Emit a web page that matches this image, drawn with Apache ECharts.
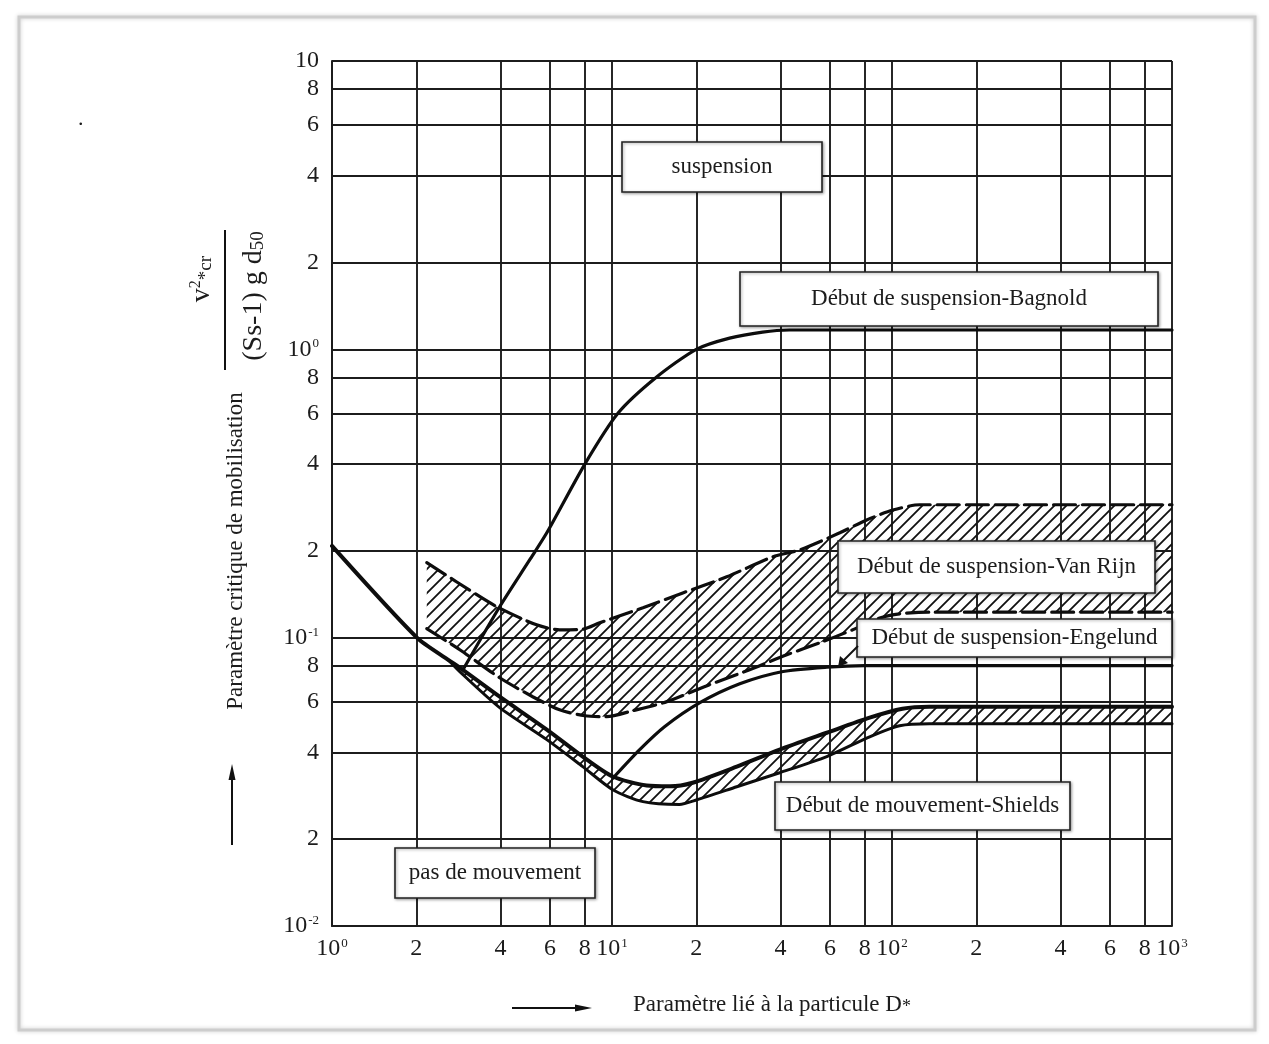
<!DOCTYPE html>
<html>
<head>
<meta charset="utf-8">
<title>Paramètre critique de mobilisation</title>
<script src="https://cdn.jsdelivr.net/npm/echarts@6/dist/echarts.min.js"></script>
<style>
html, body { margin: 0; padding: 0; background: #fff; }
#chart { width: 1269px; height: 1044px; }
</style>
</head>
<body>
<div id="chart"></div>
<script>
// grid lines between decades (2,4,6,8 of each decade)
var xMinorTicks = [2, 4, 6, 8, 20, 40, 60, 80, 200, 400, 600, 800];
var xMinorLabels = ['2', '4', '6', '8', '2', '4', '6', '8', '2', '4', '6', '8'];
var yMinorTicks = [0.02, 0.04, 0.06, 0.08, 0.2, 0.4, 0.6, 0.8, 2, 4, 6, 8];
var yMinorLabels = ['2', '4', '6', '8', '2', '4', '6', '8', '2', '4', '6', '8'];

// Début de mouvement - Shields (upper and lower edge of the band)
var shieldsUpX = [1, 2.01, 2.6, 2.86, 3.97, 5.85, 7.86, 10.06, 13.3, 16.1, 19.4, 27.9, 39.7, 58.5, 83.2, 109, 136, 1000];
var shieldsUpY = [0.208, 0.1, 0.0838, 0.0787, 0.0624, 0.048, 0.0387, 0.033, 0.0307, 0.0305, 0.0314, 0.0357, 0.0409, 0.0468, 0.0528, 0.0567, 0.0576, 0.0576];
var shieldsLowX = [2.6, 2.86, 3.97, 5.85, 7.86, 10.06, 12.9, 17.4, 20.1, 27.9, 39.7, 58.5, 83.2, 106.5, 136, 1000];
var shieldsLowY = [0.0838, 0.0762, 0.0572, 0.0443, 0.0357, 0.0297, 0.027, 0.0264, 0.0274, 0.0304, 0.034, 0.0387, 0.0453, 0.0495, 0.0503, 0.0503];

// Début de suspension - Bagnold
var bagnoldX = [2.95, 3.97, 5.08, 5.85, 8, 10.5, 14.4, 20, 26.3, 34.5, 43, 1000];
var bagnoldY = [0.078, 0.128, 0.186, 0.231, 0.4, 0.6, 0.8, 1.0, 1.094, 1.148, 1.167, 1.167];

// Début de suspension - Van Rijn (dashed band)
var vanRijnUpX = [2.18, 2.79, 3.88, 5.38, 6.5, 7.86, 9.04, 12.9, 17.9, 25.7, 37.5, 46.8, 65.1, 81.2, 100.6, 125.6, 1000];
var vanRijnUpY = [0.182, 0.156, 0.128, 0.1108, 0.1065, 0.107, 0.1126, 0.127, 0.143, 0.1626, 0.1907, 0.2016, 0.231, 0.256, 0.277, 0.289, 0.289];
var vanRijnLowX = [2.18, 2.86, 3.97, 5.21, 6.5, 7.99, 9.57, 11.86, 15.7, 22.3, 31.0, 42.1, 55.2, 72.4, 90.4, 106.5, 136, 1000];
var vanRijnLowY = [0.1074, 0.0908, 0.0726, 0.0624, 0.0562, 0.0536, 0.0532, 0.0558, 0.06, 0.0687, 0.0774, 0.0872, 0.096, 0.1065, 0.117, 0.121, 0.1226, 0.1226];

// Début de suspension - Engelund
var engelundX = [10.2, 12.56, 15.4, 20.6, 28.6, 40.4, 58.5, 80, 1000];
var engelundY = [0.033, 0.0409, 0.0491, 0.0595, 0.0692, 0.0762, 0.079, 0.08, 0.08];

var FONT = '"Liberation Serif", "Times New Roman", serif';
var INK = '#1c1c1c';

function pairs(xs, ys) {
	return xs.map(function(x, i){ return [x, ys[i]]; });
}

function makeHatch(){
	var s = 12;
	var c = document.createElement('canvas');
	c.width = s; c.height = s;
	var g = c.getContext('2d');
	g.strokeStyle = '#111';
	g.lineWidth = 1.8;
	g.beginPath();
	g.moveTo(-1, s + 1); g.lineTo(s + 1, -1);
	g.moveTo(-2, 2); g.lineTo(2, -2);
	g.moveTo(s - 2, s + 2); g.lineTo(s + 2, s - 2);
	g.stroke();
	return {image: c, repeat: 'repeat'};
}
var hatch = makeHatch();

function band(upX, upY, lowX, lowY){
	return function(params, api){
		var pts = [];
		for (var i = 0; i < upX.length; i++) {
			if (upX[i] >= lowX[0]) pts.push(api.coord([upX[i], upY[i]]));
		}
		for (var j = lowX.length - 1; j >= 0; j--) {
			pts.push(api.coord([lowX[j], lowY[j]]));
		}
		return {
			type: 'polygon',
			shape: {points: pts},
			style: {fill: hatch, stroke: null}
		};
	};
}

function curve(name, xs, ys, width, dashed){
	return {
		name: name,
		type: 'line',
		data: pairs(xs, ys),
		smooth: 0.25,
		symbol: 'none',
		silent: true,
		z: 5,
		lineStyle: {color: '#0d0d0d', width: width, type: dashed ? [22, 7] : 'solid', cap: 'round'}
	};
}

var gridMarks = [];
xMinorTicks.forEach(function(v, i){
	gridMarks.push({xAxis: v, name: xMinorLabels[i], label: {position: 'start', distance: 11}});
});
yMinorTicks.forEach(function(v, i){
	gridMarks.push({yAxis: v, name: yMinorLabels[i], label: {position: 'start', distance: 13}});
});

var supRich = {
	s: {fontSize: 13, fontFamily: FONT, color: INK, verticalAlign: 'top', padding: [0, 0, 10, 1]}
};

function box(x, y, w, h, text){
	return {
		type: 'group',
		children: [{
			type: 'rect',
			z: 50,
			shape: {x: x, y: y, width: w, height: h},
			style: {fill: '#fff', stroke: '#222', lineWidth: 1.6,
				shadowBlur: 3, shadowColor: 'rgba(0,0,0,0.35)', shadowOffsetX: 1, shadowOffsetY: 1}
		}, {
			type: 'text',
			z: 51,
			x: x + w / 2, y: y + h / 2,
			style: {text: text, font: '23px ' + FONT, fill: INK,
				align: 'center', verticalAlign: 'middle', textAlign: 'center', textVerticalAlign: 'middle'}
		}]
	};
}

var myChart = echarts.init(document.getElementById('chart'));

var option = {
	animation: false,
	backgroundColor: '#fff',
	grid: {left: 332, right: 97, top: 61, bottom: 118},
	xAxis: {
		type: 'log',
		logBase: 10,
		min: 1,
		max: 1000,
		axisLine: {show: true, lineStyle: {color: INK, width: 2}},
		axisTick: {show: false},
		splitLine: {show: true, lineStyle: {color: INK, width: 1.9}},
		axisLabel: {
			margin: 11,
			color: INK,
			fontSize: 24,
			fontFamily: FONT,
			rich: supRich,
			formatter: function(v){
				var e = Math.round(Math.log(v) / Math.LN10);
				return '10{s|' + e + '}';
			}
		}
	},
	yAxis: {
		type: 'log',
		logBase: 10,
		min: 0.01,
		max: 10,
		axisLine: {show: true, lineStyle: {color: INK, width: 2}},
		axisTick: {show: false},
		splitLine: {show: true, lineStyle: {color: INK, width: 1.9}},
		axisLabel: {
			margin: 13,
			color: INK,
			fontSize: 24,
			fontFamily: FONT,
			rich: supRich,
			formatter: function(v){
				var e = Math.round(Math.log(v) / Math.LN10);
				if (e === 1) return '10';
				return '10{s|' + e + '}';
			}
		}
	},
	series: [
		{
			name: 'grille',
			type: 'line',
			data: [],
			silent: true,
			z: 1,
			markLine: {
				silent: true,
				symbol: ['none', 'none'],
				animation: false,
				lineStyle: {color: INK, width: 1.9, type: 'solid'},
				label: {show: true, formatter: '{b}', color: INK, fontSize: 24, fontFamily: FONT},
				emphasis: {disabled: true},
				data: gridMarks
			}
		},
		{
			name: 'zone Van Rijn',
			type: 'custom',
			silent: true,
			z: 3,
			renderItem: band(vanRijnUpX, vanRijnUpY, vanRijnLowX, vanRijnLowY),
			data: [[10, 0.1]]
		},
		{
			name: 'zone Shields',
			type: 'custom',
			silent: true,
			z: 3,
			renderItem: band(shieldsUpX, shieldsUpY, shieldsLowX, shieldsLowY),
			data: [[10, 0.05]]
		},
		curve('Shields', shieldsUpX, shieldsUpY, 4, false),
		curve('Shields bas', shieldsLowX, shieldsLowY, 3, false),
		curve('Bagnold', bagnoldX, bagnoldY, 3.2, false),
		curve('Van Rijn haut', vanRijnUpX, vanRijnUpY, 3.2, true),
		curve('Van Rijn bas', vanRijnLowX, vanRijnLowY, 3.2, true),
		curve('Engelund', engelundX, engelundY, 3.2, false)
	],
	graphic: [
		{
			type: 'rect', z: -10, silent: true,
			shape: {x: 19, y: 17, width: 1236, height: 1013},
			style: {fill: 'none', stroke: '#cdcdcd', lineWidth: 3, shadowBlur: 4, shadowColor: 'rgba(0,0,0,0.2)'}
		},
		{type: 'text', x: 78, y: 108, z: 50, style: {text: '.', font: '22px ' + FONT, fill: INK}},
		box(622, 142, 200, 50, 'suspension'),
		box(740, 272, 418, 54, 'Début de suspension-Bagnold'),
		box(838, 541, 317, 52, 'Début de suspension-Van Rijn'),
		box(857, 619, 315, 38, 'Début de suspension-Engelund'),
		box(775, 782, 295, 48, 'Début de mouvement-Shields'),
		box(395, 848, 200, 50, 'pas de mouvement'),
		// arrow from Engelund label to its curve
		{type: 'line', z: 60, shape: {x1: 858, y1: 646, x2: 843, y2: 661}, style: {stroke: '#111', lineWidth: 2}},
		{type: 'polygon', z: 60, shape: {points: [[838, 667], [840, 656], [848, 663]]}, style: {fill: '#111'}},
		// y axis title
		{
			type: 'text', x: 236, y: 551, rotation: Math.PI / 2, z: 50,
			style: {text: 'Paramètre critique de mobilisation', font: '23px ' + FONT, fill: INK,
				align: 'center', verticalAlign: 'middle', textAlign: 'center', textVerticalAlign: 'middle'}
		},
		{
			type: 'text', x: 202, y: 279, rotation: Math.PI / 2, z: 50,
			style: {
				text: '{v|v}{p|2}{b|*cr}',
				align: 'center', verticalAlign: 'middle', textAlign: 'center', textVerticalAlign: 'middle',
				rich: {
					v: {fontSize: 28, fontFamily: FONT, fill: INK, color: INK},
					p: {fontSize: 16, fontFamily: FONT, fill: INK, color: INK, verticalAlign: 'top'},
					b: {fontSize: 19, fontFamily: FONT, fill: INK, color: INK, verticalAlign: 'bottom'}
				}
			}
		},
		{type: 'line', z: 50, shape: {x1: 225, y1: 230, x2: 225, y2: 370}, style: {stroke: '#111', lineWidth: 2}},
		{
			type: 'text', x: 254, y: 296, rotation: Math.PI / 2, z: 50,
			style: {
				text: '{d|(Ss-1) g d}{b|50}',
				align: 'center', verticalAlign: 'middle', textAlign: 'center', textVerticalAlign: 'middle',
				rich: {
					d: {fontSize: 28, fontFamily: FONT, fill: INK, color: INK},
					b: {fontSize: 19, fontFamily: FONT, fill: INK, color: INK, verticalAlign: 'bottom'}
				}
			}
		},
		// arrow along the y axis title
		{type: 'line', z: 50, shape: {x1: 232, y1: 845, x2: 232, y2: 776}, style: {stroke: '#111', lineWidth: 2}},
		{type: 'polygon', z: 50, shape: {points: [[232, 764], [228.5, 780], [235.5, 780]]}, style: {fill: '#111'}},
		// x axis title
		{
			type: 'text', x: 772, y: 1005, z: 50,
			style: {
				text: '{a|Paramètre lié à la particule D}{b|*}',
				align: 'center', verticalAlign: 'middle', textAlign: 'center', textVerticalAlign: 'middle',
				rich: {
					a: {fontSize: 23, fontFamily: FONT, fill: INK, color: INK},
					b: {fontSize: 18, fontFamily: FONT, fill: INK, color: INK, verticalAlign: 'bottom'}
				}
			}
		},
		{type: 'line', z: 50, shape: {x1: 512, y1: 1008, x2: 578, y2: 1008}, style: {stroke: '#111', lineWidth: 2}},
		{type: 'polygon', z: 50, shape: {points: [[592, 1008], [575, 1004.5], [575, 1011.5]]}, style: {fill: '#111'}}
	]
};

myChart.setOption(option);
</script>
</body>
</html>
